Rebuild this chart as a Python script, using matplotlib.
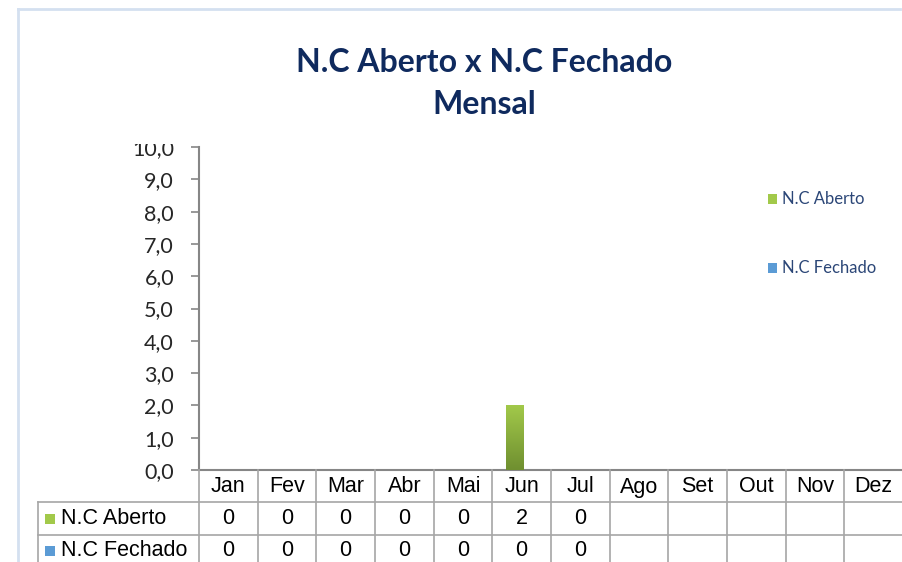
import numpy as np
import matplotlib.pyplot as plt
from matplotlib.lines import Line2D
from matplotlib.patches import Rectangle
from matplotlib.colors import LinearSegmentedColormap

months = ["Jan", "Fev", "Mar", "Abr", "Mai", "Jun", "Jul", "Ago", "Set", "Out", "Nov", "Dez"]
aberto = [0, 0, 0, 0, 0, 2, 0, None, None, None, None, None]
fechado = [0, 0, 0, 0, 0, 0, 0, None, None, None, None, None]
series_names = ["N.C Aberto", "N.C Fechado"]
yticks = np.arange(0, 11, 1)

W, H = 902, 562
GREEN_TOP, GREEN_BOT = "#a2c94a", "#6f8f30"
BLUE = "#5b9bd5"
GRID = "#a6a6a6"
AXIS = "#868686"
NAVY = "#0f2a5e"


def fx(px):
    return px / W


def fy(py):
    return 1 - py / H


fig = plt.figure(figsize=(W / 100, H / 100), dpi=100)
fig.patch.set_facecolor("white")

# chart-area border (light blue), only top/left visible in the crop
fig.add_artist(Line2D([fx(18), fx(900)], [fy(9), fy(9)], color="#d4e0f0", lw=2))
fig.add_artist(Line2D([fx(18), fx(18)], [fy(9), 0], color="#d4e0f0", lw=2))

fig.text(fx(484), fy(63), "N.C Aberto x N.C Fechado", ha="center", va="center",
         fontsize=23, fontweight="bold", color=NAVY, family="Lato")
fig.text(fx(484), fy(105), "Mensal", ha="center", va="center",
         fontsize=23, fontweight="bold", color=NAVY, family="Lato")

ax_left, ax_right = 199, 903
ax_top, ax_bot = 147, 470
ax = fig.add_axes([fx(ax_left), fy(ax_bot), (ax_right - ax_left) / W, (ax_bot - ax_top) / H])
ax.set_xlim(-0.5, len(months) - 0.5)
ax.set_ylim(0, 10)
for s in ["top", "right"]:
    ax.spines[s].set_visible(False)
ax.spines["left"].set_color(AXIS)
ax.spines["bottom"].set_color(AXIS)
ax.spines["left"].set_linewidth(1.5)
ax.spines["bottom"].set_linewidth(1.5)
ax.set_xticks([])
ax.set_yticks(yticks)
ax.set_yticklabels([f"{v:.1f}".replace(".", ",") for v in yticks])
ax.tick_params(axis="y", length=6, width=1.2, color=AXIS, pad=12, labelsize=15.5, labelcolor="#262626")
for lbl in ax.get_yticklabels():
    lbl.set_family("Lato")
ax.patch.set_alpha(0)

# bars
x = np.arange(len(months))
bw = 0.29
ab_vals = [v if v is not None else 0 for v in aberto]
fe_vals = [v if v is not None else 0 for v in fechado]
bars = ax.bar(x - 0.12, ab_vals, bw, color=GREEN_TOP, lw=0)
ax.bar(x + 0.17, fe_vals, bw, color=BLUE, lw=0)

cmap = LinearSegmentedColormap.from_list("g", [GREEN_BOT, GREEN_TOP])
grad = np.linspace(0, 1, 256).reshape(-1, 1)
for b in bars:
    if b.get_height() > 0:
        x0, y0 = b.get_x(), b.get_y()
        im = ax.imshow(grad, cmap=cmap, origin="lower", aspect="auto",
                       extent=(x0, x0 + b.get_width(), y0, y0 + b.get_height()), zorder=3)
        im.set_clip_path(b)
ax.set_xlim(-0.5, len(months) - 0.5)
ax.set_ylim(0, 10)

# hide the clipped top of the "10,0" label like the reference
fig.add_artist(Rectangle((fx(100), fy(144)), fx(95), (144 - 125) / H, transform=fig.transFigure,
                         facecolor="white", edgecolor="none", zorder=10))

# legend on the right
leg_y = [199, 268]
leg_cols = [GREEN_TOP, BLUE]
for name, col, py in zip(series_names, leg_cols, leg_y):
    fig.add_artist(Rectangle((fx(768), fy(py + 5)), fx(9), 10 / H, transform=fig.transFigure,
                             facecolor=col, edgecolor="none"))
    fig.text(fx(782), fy(py), name, ha="left", va="center", fontsize=12,
             color="#2b4677", family="Lato")

# data table under the axis
cell_w = (ax_right - ax_left) / len(months)
row_lines = [470, 502, 535]
row_mid = [487, 519, 551]
tab_left = 38
lw = 1.2
for i in range(len(months) + 1):
    px = ax_left + i * cell_w
    fig.add_artist(Line2D([fx(px), fx(px)], [fy(470), 0], color=GRID, lw=lw))
for py in row_lines[1:]:
    fig.add_artist(Line2D([fx(tab_left), 1], [fy(py), fy(py)], color=GRID, lw=lw))
fig.add_artist(Line2D([fx(tab_left), fx(tab_left)], [fy(502), 0], color=GRID, lw=lw))

tfont = dict(family="Liberation Sans", fontsize=15.5, color="black", va="center")
for i, m in enumerate(months):
    cx = ax_left + (i + 0.5) * cell_w
    fig.text(fx(cx), fy(row_mid[0]), m, ha="center", **tfont)
    for vals, py in zip([aberto, fechado], row_mid[1:]):
        if vals[i] is not None:
            fig.text(fx(cx), fy(py), str(vals[i]), ha="center", **tfont)

for name, col, py in zip(series_names, leg_cols, row_mid[1:]):
    fig.add_artist(Rectangle((fx(45), fy(py + 5)), fx(10), 10 / H, transform=fig.transFigure,
                             facecolor=col, edgecolor="none"))
    fig.text(fx(61), fy(py), name, ha="left", **tfont)

fig.savefig("out.png", dpi=100)
